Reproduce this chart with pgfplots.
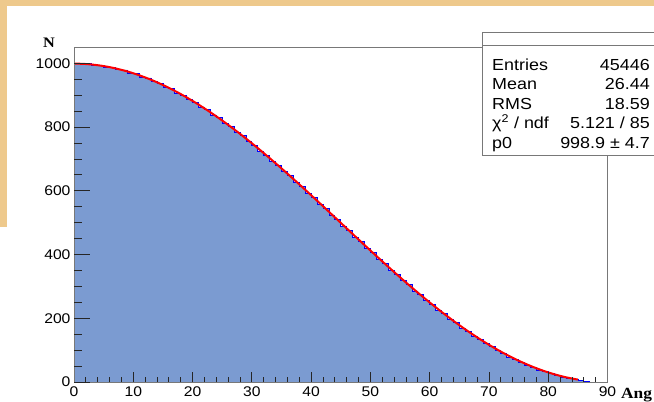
\documentclass[border=0pt]{standalone}
\usepackage{pgfplots}
\pgfplotsset{compat=1.18}
\usepackage{fontspec}
\setmainfont{Liberation Sans}[FakeStretch=1.12]
\newfontfamily\labfont{Liberation Serif}[FakeStretch=1.12]
\definecolor{histfill}{RGB}{123,155,209}
\definecolor{beige}{RGB}{238,201,140}
\definecolor{framegray}{RGB}{120,120,120}
\begin{document}
\begin{tikzpicture}[x=1pt,y=1pt]
\useasboundingbox (0,0) rectangle (654,402);
\fill[white] (0,0) rectangle (654,402);
\fill[beige] (0,396) rectangle (654,402);
\fill[beige] (0,175) rectangle (7,402);
\begin{axis}[
  at={(74pt,20pt)}, anchor=south west, scale only axis,
  width=533.5pt, height=334pt,
  xmin=0, xmax=90, ymin=0, ymax=1048,
  axis on top,
  axis line style={draw=framegray, line width=1pt},
  xtick={0,10,...,90}, minor x tick num=4,
  ytick=\empty,
  xtick pos=lower, tick align=inside,
  major tick length=10pt, minor tick length=5pt,
  tick style={black!85, line width=0.8pt},
  xticklabel style={font=\fontsize{14}{14}\selectfont, yshift=-1pt},
  /pgf/number format/assume math mode=true,
  /pgf/number format/1000 sep={},
  scaled ticks=false,
]
\addplot[const plot, fill=histfill, draw=blue, line width=0.7pt] table {
x y
0 1000
1 997
2 999
3 993
4 994
5 988
6 987
7 980
8 979
9 970
10 967
11 957
12 954
13 942
14 938
15 926
16 920
17 907
18 900
19 886
20 878
21 863
22 854
23 838
24 829
25 812
26 801
27 784
28 773
29 755
30 743
31 724
32 712
33 693
34 680
35 660
36 647
37 627
38 613
39 593
40 579
41 558
42 545
43 523
44 510
45 489
46 475
47 454
48 440
49 419
50 406
51 385
52 372
53 351
54 338
55 318
56 306
57 286
58 274
59 255
60 243
61 225
62 214
63 196
64 186
65 169
66 159
67 144
68 134
69 120
70 111
71 98
72 90
73 78
74 70
75 61
76 53
77 45
78 38
79 32
80 26
81 20
82 16
83 12
84 8
85 5
86 3
87 3
} \closedcycle;
\addplot[red, line width=2pt] table {
x y
0 998.9
1 998.6
2 997.7
3 996.2
4 994.0
5 991.3
6 988.0
7 984.1
8 979.5
9 974.5
10 968.8
11 962.5
12 955.7
13 948.4
14 940.4
15 932.0
16 923.0
17 913.5
18 903.5
19 893.0
20 882.1
21 870.6
22 858.7
23 846.4
24 833.6
25 820.5
26 806.9
27 793.0
28 778.7
29 764.1
30 749.2
31 733.9
32 718.4
33 702.6
34 686.5
35 670.3
36 653.8
37 637.1
38 620.3
39 603.3
40 586.2
41 569.0
42 551.7
43 534.3
44 516.9
45 499.5
46 482.0
47 464.6
48 447.2
49 429.9
50 412.7
51 395.6
52 378.6
53 361.8
54 345.1
55 328.6
56 312.3
57 296.3
58 280.5
59 264.9
60 249.7
61 234.8
62 220.2
63 205.9
64 192.0
65 178.4
66 165.3
67 152.5
68 140.2
69 128.3
70 116.8
71 105.9
72 95.4
73 85.4
74 75.9
75 66.9
76 58.5
77 50.6
78 43.2
79 36.4
80 30.1
81 24.4
82 19.3
83 14.8
84 10.9
85 7.6
};
\end{axis}
\begin{axis}[
  at={(74pt,20pt)}, anchor=south west, scale only axis,
  width=533.5pt, height=334pt,
  xmin=0, xmax=90, ymin=0, ymax=1048,
  axis line style={draw=none},
  xtick=\empty, ytick={0,200,...,1000}, minor y tick num=3,
  ytick pos=left, tick align=inside,
  major tick length=16pt, minor tick length=8pt,
  tick style={black!85, line width=0.8pt},
  yticklabel style={font=\fontsize{14}{14}\selectfont},
  /pgf/number format/assume math mode=true,
  /pgf/number format/1000 sep={},
  scaled ticks=false,
]
\end{axis}
\node[anchor=base, font=\labfont\bfseries\fontsize{14.5}{14.5}\selectfont, inner sep=0pt] at (49,354) {N};
\node[anchor=base west, font=\labfont\bfseries\fontsize{15.5}{15.5}\selectfont, inner sep=0pt] at (621,3) {Ang};
\filldraw[fill=white, draw=framegray, line width=1pt] (482,246) rectangle (660,369);
\draw[framegray, line width=1pt] (482,356) -- (660,356);
\begin{scope}[every node/.style={inner sep=0pt, font=\fontsize{16}{16}\selectfont}]
\node[anchor=base west] at (492,331.5) {Entries};
\node[anchor=base east] at (650,331.5) {45446};
\node[anchor=base west] at (492,312) {Mean};
\node[anchor=base east] at (650,312) {26.44};
\node[anchor=base west] at (492,292.5) {RMS};
\node[anchor=base east] at (650,292.5) {18.59};
\node[anchor=base west] at (492,273) {χ\textsuperscript{2} / ndf};
\node[anchor=base east] at (650,273) {5.121 / 85};
\node[anchor=base west] at (492,253.5) {p0};
\node[anchor=base east] at (650,253.5) {998.9 ± 4.7};
\end{scope}
\end{tikzpicture}
\end{document}
